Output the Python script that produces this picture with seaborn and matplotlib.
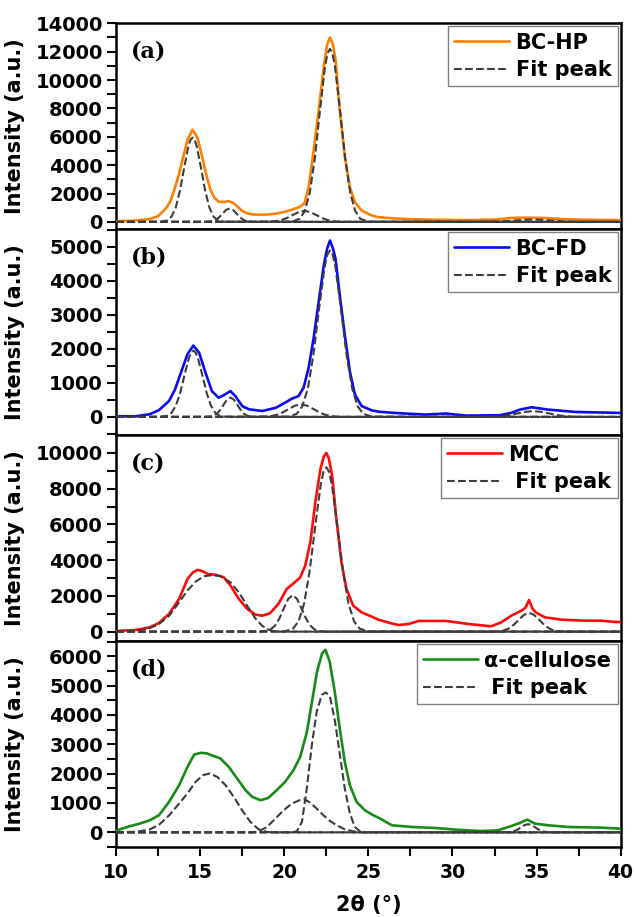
import matplotlib
matplotlib.use("Agg")
import matplotlib.pyplot as plt
from matplotlib.ticker import MultipleLocator
import seaborn as sns

# ---------------- data ----------------
# (a) BC-HP
hp_x = [10, 11, 12, 12.5, 13, 13.25, 13.5, 13.75, 14, 14.25, 14.55, 14.85, 15.1, 15.35, 15.6, 15.85, 16.1, 16.4,
        16.7, 16.95, 17.2, 17.5, 17.8, 18.1, 18.5, 19, 19.5, 20, 20.5, 20.9, 21.2, 21.45, 21.75, 22.05, 22.35,
        22.55, 22.72, 22.9, 23.05, 23.3, 23.6, 23.9, 24.2, 24.6, 25.2, 25.6, 26.5, 27.5, 29, 31, 32.5, 33.5,
        34.5, 35.5, 36.5, 37.5, 39, 40]
hp_y = [50, 80, 200, 400, 1000, 1500, 2400, 3400, 4600, 5800, 6500, 5900, 4700, 3400, 2300, 1700, 1420, 1400,
        1460, 1350, 1100, 780, 600, 530, 510, 520, 580, 700, 880, 1050, 1300, 2450, 5050, 7900, 10950,
        12500, 13000, 12500, 11400, 7900, 4600, 2450, 1400, 800, 450, 330, 250, 190, 150, 130, 160, 280,
        300, 280, 200, 160, 140, 130]
hp_fit_x = [
    [10, 12.675, 13.05, 13.3, 13.55, 13.8, 14.05, 14.3, 14.425, 14.55, 14.675, 14.8, 15.05, 15.3, 15.55, 15.8, 16.05, 16.425, 40],
    [10, 15.25, 15.55, 15.75, 15.95, 16.15, 16.35, 16.55, 16.75, 16.95, 17.15, 17.35, 17.55, 17.75, 17.95, 18.25, 40],
    [10, 18.65, 19.16, 19.5, 19.84, 20.18, 20.52, 20.86, 21.2, 21.54, 21.88, 22.22, 22.56, 22.9, 23.24, 23.75, 40],
    [10, 20.47, 20.92, 21.22, 21.52, 21.82, 22.12, 22.42, 22.57, 22.72, 22.87, 23.02, 23.32, 23.62, 23.92, 24.22, 24.52, 24.97, 40],
    [10, 31.05, 31.8, 32.3, 32.8, 33.3, 33.8, 34.3, 34.8, 35.3, 35.8, 36.3, 36.8, 37.3, 37.8, 38.55, 40],
]
hp_fit_y = [
    [0, 12, 110, 372, 1012, 2196, 3814, 5325, 5790, 5950, 5790, 5325, 3814, 2196, 1012, 372, 110, 12, 0],
    [0, 2, 18, 59, 162, 351, 609, 850, 950, 850, 609, 351, 162, 59, 18, 2, 0],
    [0, 2, 14, 49, 133, 288, 500, 698, 780, 698, 500, 288, 133, 49, 14, 2, 0],
    [0, 24, 226, 763, 2074, 4502, 7820, 10919, 11870, 12200, 11870, 10919, 7820, 4502, 2074, 763, 226, 24, 0],
    [0, 0, 3, 11, 29, 63, 109, 152, 170, 152, 109, 63, 29, 11, 3, 0, 0],
]

# (b) BC-FD
fd_x = [10, 11.2, 12, 12.55, 13.15, 13.5, 13.75, 14.0, 14.25, 14.6, 14.95, 15.3, 15.7, 16.1, 16.4, 16.8, 17.1,
        17.5, 17.9, 18.7, 19.5, 20.05, 20.45, 20.85, 21.15, 21.45, 21.75, 22.05, 22.35, 22.55, 22.72, 22.9,
        23.05, 23.3, 23.6, 23.9, 24.2, 24.6, 25.2, 25.6, 26.5, 27.2, 28.4, 29.6, 30.8, 32.8, 33.5, 34, 34.7,
        35.7, 37.3, 40]
fd_y = [20, 20, 80, 200, 470, 800, 1150, 1500, 1850, 2100, 1880, 1330, 760, 565, 640, 760, 610,
        320, 225, 175, 270, 420, 535, 615, 860, 1450, 2330, 3400, 4460, 4950, 5190, 4950,
        4650, 3580, 2410, 1340, 660, 320, 195, 155, 120, 100, 70, 100, 40, 50, 120, 215, 285,
        215, 147, 118]
fd_fit_x = [
    [10, 12.65, 13.04, 13.3, 13.56, 13.82, 14.08, 14.34, 14.47, 14.6, 14.73, 14.86, 15.12, 15.38, 15.64, 15.9, 16.16, 16.55, 40],
    [10, 15.3, 15.6, 15.8, 16.0, 16.2, 16.4, 16.6, 16.8, 17.0, 17.2, 17.4, 17.6, 17.8, 18.0, 18.3, 40],
    [10, 18.3, 18.84, 19.2, 19.56, 19.92, 20.28, 20.64, 21.0, 21.36, 21.72, 22.08, 22.44, 22.8, 23.16, 23.7, 40],
    [10, 20.245, 20.74, 21.07, 21.4, 21.73, 22.06, 22.39, 22.555, 22.72, 22.885, 23.05, 23.38, 23.71, 24.04, 24.37, 24.7, 25.195, 40],
    [10, 31.5, 32.16, 32.6, 33.04, 33.48, 33.92, 34.36, 34.8, 35.24, 35.68, 36.12, 36.56, 37.0, 37.44, 38.1, 40],
]
fd_fit_y = [
    [0, 4, 36, 122, 332, 720, 1250, 1745, 1897, 1950, 1897, 1745, 1250, 720, 332, 122, 36, 4, 0],
    [0, 1, 11, 36, 97, 210, 365, 510, 570, 510, 365, 210, 97, 36, 11, 1, 0],
    [0, 1, 7, 23, 63, 137, 237, 331, 370, 331, 237, 137, 63, 23, 7, 1, 0],
    [0, 10, 91, 306, 833, 1808, 3141, 4386, 4768, 4900, 4768, 4386, 3141, 1808, 833, 306, 91, 10, 0],
    [0, 0, 3, 11, 29, 63, 109, 152, 170, 152, 109, 63, 29, 11, 3, 0, 0],
]

# (c) MCC
mcc_x = [10, 11.2, 12, 12.55, 13.15, 13.75, 14.25, 14.55, 14.85, 15.15, 15.45, 16.0, 16.4, 16.8, 17.3, 17.8,
         18.3, 18.7, 19.15, 19.65, 20.15, 20.55, 20.95, 21.25, 21.55, 21.85, 22.15, 22.35, 22.5, 22.65, 22.85,
         23.1, 23.4, 23.7, 24.1, 24.6, 25.2, 25.6, 26.3, 26.8, 27.4, 28, 29.6, 30.95, 32.3, 32.9, 33.5, 34.1,
         34.35, 34.55, 34.75, 34.95, 35.5, 36.5, 37.85, 38.8, 39.7, 40]
mcc_y = [40, 95, 240, 485, 990, 1830, 2950, 3300, 3460, 3380, 3230, 3170, 3040, 2580, 1830, 1270,
         950, 895, 1025, 1550, 2390, 2705, 3040, 3700, 5000, 7250, 9100, 9800, 10000, 9700, 8730,
         6300, 3880, 2390, 1455, 1080, 840, 670, 480, 373, 430, 600, 600, 430, 300, 520, 895, 1175,
         1350, 1770, 1300, 1080, 800, 670, 615, 615, 540, 540]
mcc_fit_x = [
    [10, 11.18, 11.97, 12.56, 13.16, 13.75, 14.24, 14.73, 15.23, 15.72, 16.21, 16.8, 17.3, 17.79, 18.28, 18.68, 19.07, 19.47, 40],
    [10, 18.55, 18.94, 19.2, 19.46, 19.72, 19.98, 20.24, 20.5, 20.76, 21.02, 21.28, 21.54, 21.8, 22.06, 22.45, 40],
    [10, 20.025, 20.52, 20.85, 21.18, 21.51, 21.84, 22.17, 22.335, 22.5, 22.665, 22.83, 23.16, 23.49, 23.82, 24.15, 24.48, 24.975, 40],
    [10, 32.3, 32.75, 33.05, 33.35, 33.65, 33.95, 34.25, 34.55, 34.85, 35.15, 35.45, 35.75, 36.05, 36.35, 36.8, 40],
]
mcc_fit_y = [
    [0, 40, 190, 430, 895, 1640, 2295, 2800, 3100, 3170, 3100, 2760, 2200, 1455, 746, 336, 112, 0, 0],
    [0, 4, 38, 128, 349, 756, 1314, 1835, 2050, 1835, 1314, 756, 349, 128, 38, 4, 0],
    [0, 18, 170, 575, 1564, 3395, 5897, 8234, 8952, 9200, 8952, 8234, 5897, 3395, 1564, 575, 170, 18, 0],
    [0, 2, 19, 66, 179, 387, 673, 940, 1050, 940, 673, 387, 179, 66, 19, 2, 0],
]

# (d) alpha-cellulose
ac_x = [10, 10.8, 11.4, 12, 12.55, 13.15, 13.75, 14.25, 14.65, 15.05, 15.4, 15.8, 16.2, 16.7, 17.2, 17.7,
        18.1, 18.6, 19.05, 19.55, 20.05, 20.55, 20.95, 21.35, 21.65, 21.95, 22.25, 22.45, 22.7, 23.0, 23.3,
        23.6, 23.9, 24.3, 24.8, 25.3, 25.6, 26.4, 27.6, 29, 30.2, 31.7, 32.7, 33.5, 34, 34.45, 34.9, 35.7,
        36.9, 38.8, 40]
ac_y = [60, 205, 296, 410, 580, 1036, 1606, 2232, 2654, 2710, 2690, 2600, 2520, 2232, 1834, 1435,
        1207, 1093, 1173, 1435, 1720, 2120, 2575, 3430, 4450, 5480, 6100, 6220, 5820, 4800, 3540,
        2400, 1606, 1036, 750, 580, 500, 240, 182, 148, 91, 46, 68, 216, 319, 433, 296, 240,
        182, 160, 125]
ac_fit_x = [
    [10, 11.18, 11.97, 12.56, 13.16, 13.75, 14.24, 14.73, 15.17, 15.56, 16.02, 16.51, 17.0, 17.5, 17.99, 18.48, 18.97, 19.47, 40],
    [10, 18.09, 18.48, 18.97, 19.47, 19.96, 20.45, 20.95, 21.2, 21.54, 21.93, 22.33, 22.72, 23.12, 23.6, 24.1, 24.6, 40],
    [10, 20.45, 20.75, 21.05, 21.34, 21.64, 21.93, 22.23, 22.47, 22.72, 23.02, 23.31, 23.6, 23.9, 24.2, 24.5, 24.79, 40],
    [10, 33.0, 33.3, 33.5, 33.7, 33.9, 34.1, 34.3, 34.5, 34.7, 34.9, 35.1, 35.3, 35.5, 35.7, 36.0, 40],
]
ac_fit_y = [
    [0, 20, 90, 260, 580, 980, 1320, 1720, 1950, 2005, 1890, 1606, 1207, 750, 353, 103, 11, 0, 0],
    [0, 0, 34, 182, 467, 750, 980, 1105, 1128, 1014, 810, 580, 387, 240, 103, 34, 0, 0],
    [0, 0, 34, 353, 1490, 2970, 4110, 4680, 4770, 4620, 3770, 2630, 1490, 640, 182, 34, 0, 0],
    [0, 1, 5, 18, 48, 103, 179, 251, 280, 251, 179, 103, 48, 18, 5, 1, 0],
]

panels = [
    dict(x=hp_x, y=hp_y, fx=hp_fit_x, fy=hp_fit_y, color="#FF8000", label="BC-HP", fitlab="Fit peak",
         tag="(a)", ylim=(-520, 14000), major=2000, minor=1000),
    dict(x=fd_x, y=fd_y, fx=fd_fit_x, fy=fd_fit_y, color="#0A0AF5", label="BC-FD", fitlab="Fit peak",
         tag="(b)", ylim=(-540, 5520), major=1000, minor=500),
    dict(x=mcc_x, y=mcc_y, fx=mcc_fit_x, fy=mcc_fit_y, color="#FF0A0A", label="MCC", fitlab=" Fit peak",
         tag="(c)", ylim=(-540, 10990), major=2000, minor=1000),
    dict(x=ac_x, y=ac_y, fx=ac_fit_x, fy=ac_fit_y, color="#168C16", label="α-cellulose", fitlab=" Fit peak",
         tag="(d)", ylim=(-510, 6510), major=1000, minor=500),
]

# ---------------- styling ----------------
sns.set_style("ticks")
plt.rcParams["font.family"] = ["DejaVu Sans"]
plt.rcParams["font.weight"] = "bold"
plt.rcParams["axes.labelweight"] = "bold"
for key in ["text.color", "axes.labelcolor", "xtick.color", "ytick.color", "axes.edgecolor"]:
    plt.rcParams[key] = "black"

fig = plt.figure(figsize=(6.34, 9.17), dpi=100)
axes = fig.subplots(4, 1, sharex=True, gridspec_kw=dict(hspace=0))
fig.subplots_adjust(left=0.183, right=0.979, top=0.9746, bottom=0.076)

fit_color = "#3C3C3C"
for i, (ax, p) in enumerate(zip(axes, panels)):
    sns.lineplot(x=p["x"], y=p["y"], ax=ax, color=p["color"], lw=1.9, label=p["label"],
                 estimator=None, sort=False, zorder=3)
    for k, (fx, fy) in enumerate(zip(p["fx"], p["fy"])):
        sns.lineplot(x=fx, y=fy, ax=ax, color=fit_color, lw=1.5, linestyle="--",
                     label=p["fitlab"] if k == 0 else None, estimator=None, sort=False, zorder=4)
    ax.set_xlim(10, 40)
    ax.set_ylim(*p["ylim"])
    ax.yaxis.set_major_locator(MultipleLocator(p["major"]))
    ax.yaxis.set_minor_locator(MultipleLocator(p["minor"]))
    ax.xaxis.set_major_locator(MultipleLocator(5))
    ax.xaxis.set_minor_locator(MultipleLocator(2.5))
    for s in ax.spines.values():
        s.set_visible(True)
        s.set_linewidth(1.8)
        s.set_color("black")
    ax.tick_params(axis="y", which="both", direction="out", left=True, right=False,
                   length=6.5, width=1.5, labelsize=14, pad=3, colors="black")
    if i < 3:
        ax.tick_params(axis="x", which="both", bottom=False, top=False, labelbottom=False)
    else:
        ax.tick_params(axis="x", which="both", direction="out", bottom=True, top=False,
                       length=6.5, width=1.5, labelsize=13.5, pad=5, colors="black")
    for lab in ax.get_yticklabels() + ax.get_xticklabels():
        lab.set_fontweight("bold")
    ax.set_ylabel("Intensity (a.u.)", fontsize=15, fontweight="bold", color="black")
    ax.yaxis.set_label_coords(-0.181, 0.5)
    ax.text(0.03, 0.865, p["tag"], transform=ax.transAxes, ha="left", va="center",
            fontsize=16, fontweight="bold", family=["DejaVu Serif"], color="black")
    leg = ax.legend(loc="upper right", frameon=True, fancybox=False, edgecolor="#808080",
                    framealpha=1, borderaxespad=0.15, handlelength=2.65, handletextpad=0.3,
                    labelspacing=0.35, borderpad=0.3, prop=dict(weight="bold", size=15))
    leg.get_frame().set_linewidth(1.0)
    for t in leg.get_texts():
        t.set_color("black")

axes[3].set_xlabel("2θ (°)", fontsize=15, fontweight="bold", color="black")
axes[3].xaxis.set_label_coords(0.5, -0.232)

fig.savefig("out.png", dpi=100)
